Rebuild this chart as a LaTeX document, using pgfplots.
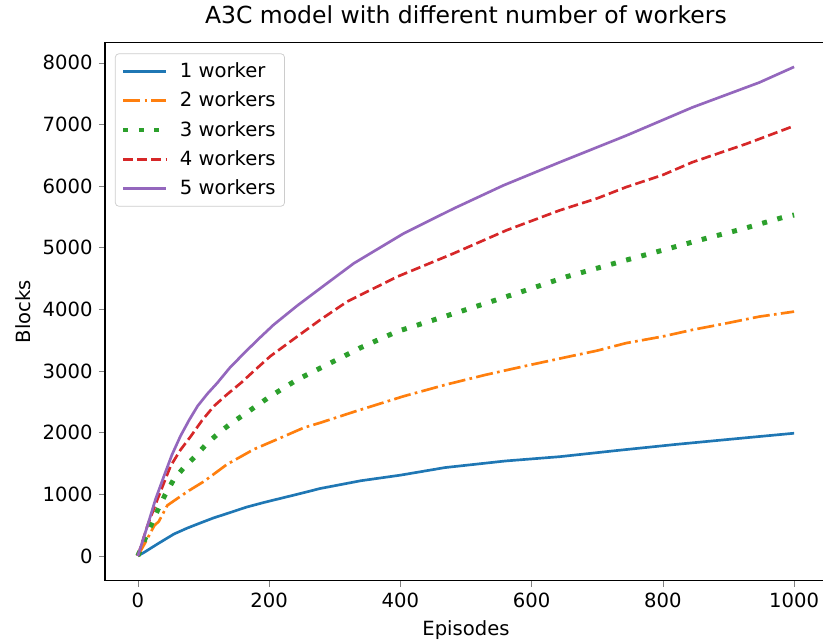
\documentclass[border=0pt]{standalone}
\usepackage{fontspec}
\setmainfont{DejaVu Sans}
\usepackage{pgfplots}
\pgfplotsset{compat=1.18}
\definecolor{c1}{HTML}{1F77B4}
\definecolor{c2}{HTML}{FF7F0E}
\definecolor{c3}{HTML}{2CA02C}
\definecolor{c4}{HTML}{D62728}
\definecolor{c5}{HTML}{9467BD}
\begin{document}
\begin{tikzpicture}
\begin{axis}[
  scale only axis, width=405.6pt, height=302.4pt,
  xmin=-50, xmax=1050, ymin=-400, ymax=8330,
  xtick={0,200,400,600,800,1000},
  ytick={0,1000,2000,3000,4000,5000,6000,7000,8000},
  tick align=outside, xtick pos=bottom, ytick pos=left,
  major tick length=3.5pt,
  axis line style={line width=0.8pt},
  /pgf/number format/assume math mode=true,
  /pgf/number format/1000 sep={},
  tick label style={font=\fontsize{11}{13}\selectfont},
  label style={font=\fontsize{11}{13}\selectfont},
  title style={font=\fontsize{13.2}{15}\selectfont, yshift=1pt},
  title={A3C model with different number of workers},
  xlabel={Episodes}, ylabel={Blocks},
  legend style={at={(0,1)}, anchor=north west, xshift=5.6pt, yshift=-6.2pt,
    font=\fontsize{11}{13}\selectfont, draw=black!20, rounded corners=2pt,
    inner sep=3pt, row sep=2.6pt,
    /tikz/every odd column/.append style={column sep=4.5pt}},
  legend cell align=left,
  legend image code/.code={\draw[#1] (0pt,0pt) -- (24pt,0pt);},
  every axis plot/.append style={line width=1.5pt},
]
\addplot[c1] coordinates {(0,0)(10,60)(30,194)(55,355)(75,450)(91,517)(115,615)(141,705)(165,790)(192,867)(243,1000)(278,1094)(340,1220)(400,1310)(468,1433)(560,1540)(643,1610)(730,1710)(820,1809)(910,1900)(1000,1990)};
\addlegendentry{1 worker}
\addplot[c2, dash pattern=on 9.6pt off 2.4pt on 1.5pt off 2.4pt] coordinates {(0,0)(12,230)(25,490)(32,560)(45,820)(60,930)(78,1060)(101,1210)(136,1486)(177,1730)(212,1890)(253,2080)(278,2160)(330,2340)(405,2590)(470,2780)(531,2940)(590,3080)(658,3236)(700,3330)(744,3452)(800,3560)(845,3667)(900,3780)(947,3882)(1000,3963)};
\addlegendentry{2 workers}
\addplot[c3, line width=2.8pt, dash pattern=on 2.8pt off 6pt] coordinates {(0,0)(12,300)(22,545)(32,785)(42,1000)(55,1245)(70,1430)(88,1620)(105,1820)(124,2000)(142,2150)(162,2295)(202,2590)(243,2860)(288,3100)(340,3380)(395,3640)(491,3963)(582,4276)(653,4528)(744,4798)(800,4960)(861,5137)(920,5300)(982,5488)(1000,5530)};
\addlegendentry{3 workers}
\addplot[c4, dash pattern=on 5.55pt off 2.4pt] coordinates {(0,0)(15,500)(30,920)(50,1460)(65,1720)(81,1945)(98,2200)(116,2430)(136,2620)(157,2805)(180,3030)(202,3240)(243,3560)(278,3830)(319,4125)(395,4528)(481,4906)(562,5283)(643,5606)(700,5800)(744,5982)(800,6180)(845,6386)(927,6683)(997,6963)(1000,6975)};
\addlegendentry{4 workers}
\addplot[c5] coordinates {(0,0)(2,65)(15,500)(27,920)(40,1300)(52,1640)(65,1945)(78,2200)(91,2430)(106,2630)(121,2805)(140,3050)(162,3290)(185,3530)(207,3750)(243,4060)(278,4340)(329,4745)(405,5230)(481,5633)(557,6010)(643,6386)(744,6817)(845,7275)(947,7679)(1000,7932)};
\addlegendentry{5 workers}
\end{axis}
\pgfresetboundingbox
\path ([shift={(-59pt,-35.6pt)}]current axis.south west) rectangle ([shift={(-2.2pt,23.8pt)}]current axis.north east);
\end{tikzpicture}
\end{document}
